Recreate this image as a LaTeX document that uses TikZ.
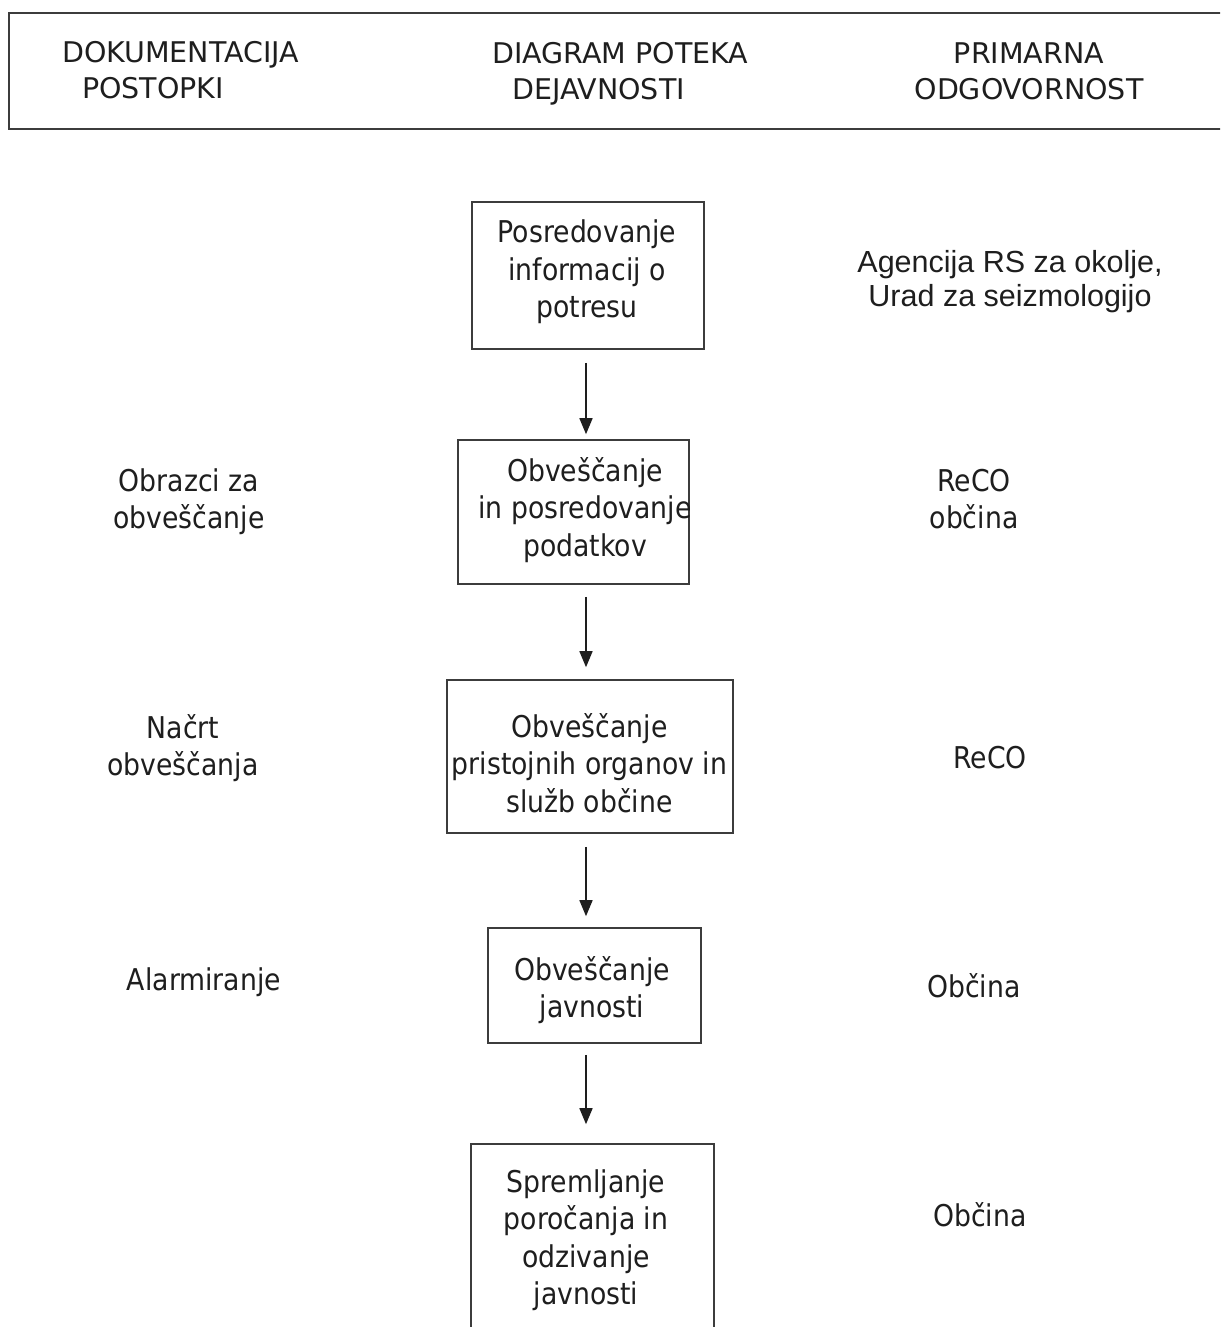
\documentclass[tikz,border=0pt]{standalone}
\usepackage{fontspec}
\setmainfont{DejaVu Sans}[FakeStretch=0.89]
\newfontfamily\hdfont{DejaVu Sans}[FakeStretch=1.0]
\newfontfamily\arialfont{Liberation Sans}
\usetikzlibrary{arrows.meta}
\definecolor{ink}{HTML}{1E1E1E}
\definecolor{edge}{HTML}{3C3C3C}
\tikzset{
  boxst/.style={draw=edge, line width=1.6pt, rectangle, inner sep=0pt},
  bodytxt/.style={text=ink, align=center, inner sep=0pt, font=\fontsize{30}{37.5}\selectfont},
  hdtxt/.style={text=ink, inner sep=0pt, font=\hdfont\fontsize{28.5}{36}\selectfont},
  artxt/.style={text=ink, align=center, inner sep=0pt, font=\arialfont\fontsize{30.5}{34}\selectfont},
  arr/.style={draw=ink, line width=1.5pt, -{Triangle[length=16pt,width=13pt]}},
}
\begin{document}
\begin{tikzpicture}[x=1pt,y=-1pt]
\useasboundingbox (0,0) rectangle (1220,1327);
\clip (0,0) rectangle (1220,1327);
\fill[white] (0,0) rectangle (1220,1327);
% header
\node[draw=edge, line width=2.2pt, rectangle, inner sep=0pt, minimum width=1230pt, minimum height=116pt, anchor=north west] (hdr) at (8,12) {};
\node[hdtxt, align=left, anchor=west] (h1) at (62,70) {DOKUMENTACIJA\\\hspace*{20pt}POSTOPKI};
\node[hdtxt, align=left, anchor=west] (h2) at (492,74) {DIAGRAM POTEKA\\\hspace*{20pt}DEJAVNOSTI};
\node[hdtxt, align=center] (h3) at (1029,71) {PRIMARNA\\ODGOVORNOST};
% boxes
\node[boxst, minimum width=232pt, minimum height=147pt] (b1) at (588,275.5) {};
\node[boxst, minimum width=231pt, minimum height=144pt] (b2) at (573.5,512) {};
\node[boxst, minimum width=286pt, minimum height=153pt] (b3) at (590,756.5) {};
\node[boxst, minimum width=213pt, minimum height=115pt] (b4) at (594.5,985.5) {};
\node[boxst, minimum width=243pt, minimum height=196pt] (b5) at (592.5,1242) {};
% box texts
\node[bodytxt] (t1) at (587,272) {Posredovanje\\informacij o\\potresu};
\node[bodytxt] (t2) at (585,510) {Obveščanje\\in posredovanje\\podatkov};
\node[bodytxt] (t3) at (589.5,763) {Obveščanje\\pristojnih organov in\\služb občine};
\node[bodytxt] (t4) at (592,990) {Obveščanje\\javnosti};
\node[bodytxt] (t5) at (586,1240) {Spremljanje\\poročanja in\\odzivanje\\javnosti};
% arrows
\coordinate (ax) at (586,0);
\draw[arr, shorten <=13pt, shorten >=5pt] (b1.south -| ax) -- (b2.north -| ax);
\draw[arr, shorten <=12pt, shorten >=12pt] (b2.south -| ax) -- (b3.north -| ax);
\draw[arr, shorten <=13pt, shorten >=11pt] (b3.south -| ax) -- (b4.north -| ax);
\draw[arr, shorten <=11pt, shorten >=19pt] (b4.south -| ax) -- (b5.north -| ax);
% left column
\node[bodytxt] (l2) at (189,501.5) {Obrazci za\\obveščanje};
\node[bodytxt] (l3) at (183,748) {Načrt\\obveščanja};
\node[bodytxt] (l4) at (204,982) {Alarmiranje};
% right column
\node[artxt] (r1) at (1010,282) {Agencija RS za okolje,\\Urad za seizmologijo};
\node[bodytxt] (r2) at (974,499) {ReCO\\občina};
\node[bodytxt] (r3) at (990,758) {ReCO};
\node[bodytxt] (r4) at (974,986) {Občina};
\node[bodytxt] (r5) at (980,1215) {Občina};
\end{tikzpicture}
\end{document}
